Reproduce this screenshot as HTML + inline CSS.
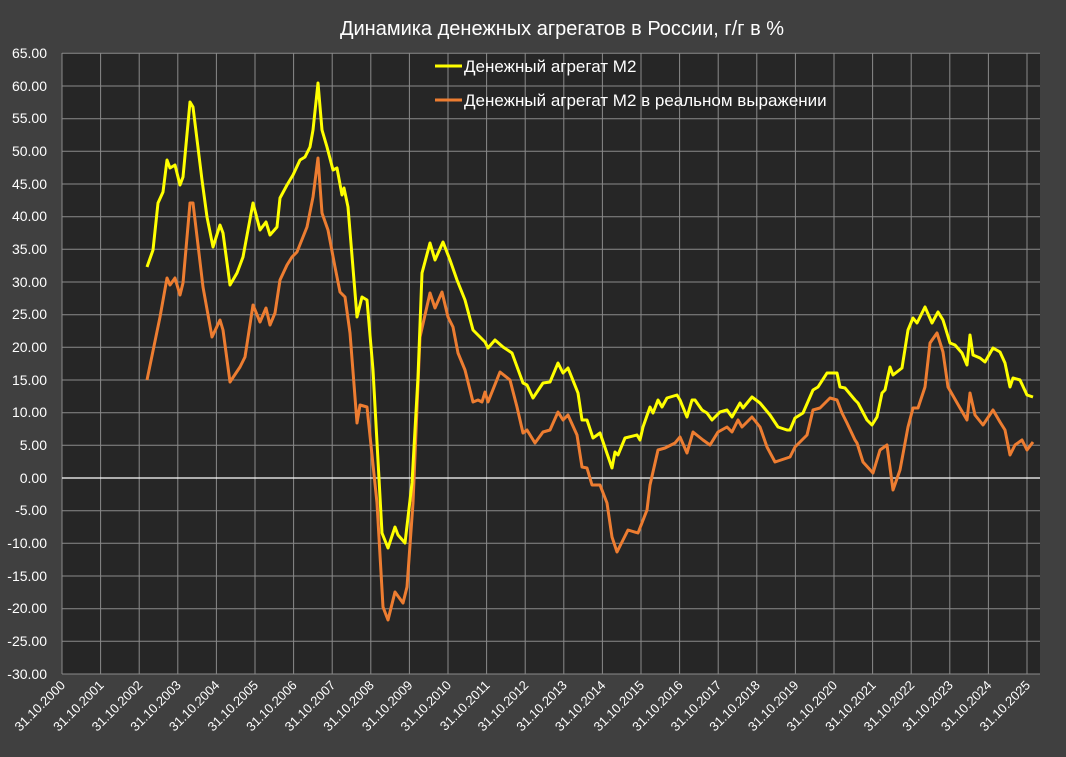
<!DOCTYPE html>
<html><head><meta charset="utf-8"><style>
body{margin:0;background:#404040;}
svg{display:block;font-family:"Liberation Sans","DejaVu Sans",sans-serif;}
</style></head><body>
<svg width="1066" height="757" viewBox="0 0 1066 757" xmlns="http://www.w3.org/2000/svg">
<rect width="1066" height="757" fill="#404040"/>
<rect x="62" y="53.3" width="978" height="620.7" fill="#262626"/>
<g stroke="#8a8a8a" stroke-width="1">
<line x1="62" x2="1040" y1="53.3" y2="53.3"/><line x1="62" x2="1040" y1="86.0" y2="86.0"/><line x1="62" x2="1040" y1="118.7" y2="118.7"/><line x1="62" x2="1040" y1="151.3" y2="151.3"/><line x1="62" x2="1040" y1="184.0" y2="184.0"/><line x1="62" x2="1040" y1="216.7" y2="216.7"/><line x1="62" x2="1040" y1="249.3" y2="249.3"/><line x1="62" x2="1040" y1="282.0" y2="282.0"/><line x1="62" x2="1040" y1="314.7" y2="314.7"/><line x1="62" x2="1040" y1="347.3" y2="347.3"/><line x1="62" x2="1040" y1="380.0" y2="380.0"/><line x1="62" x2="1040" y1="412.7" y2="412.7"/><line x1="62" x2="1040" y1="445.3" y2="445.3"/><line x1="62" x2="1040" y1="510.7" y2="510.7"/><line x1="62" x2="1040" y1="543.3" y2="543.3"/><line x1="62" x2="1040" y1="576.0" y2="576.0"/><line x1="62" x2="1040" y1="608.7" y2="608.7"/><line x1="62" x2="1040" y1="641.3" y2="641.3"/><line x1="62" x2="1040" y1="674" y2="674"/>
<line x1="62" x2="62" y1="53" y2="674"/><line x1="100.6" x2="100.6" y1="53" y2="674"/><line x1="139.2" x2="139.2" y1="53" y2="674"/><line x1="177.8" x2="177.8" y1="53" y2="674"/><line x1="216.4" x2="216.4" y1="53" y2="674"/><line x1="255" x2="255" y1="53" y2="674"/><line x1="293.6" x2="293.6" y1="53" y2="674"/><line x1="332.2" x2="332.2" y1="53" y2="674"/><line x1="370.8" x2="370.8" y1="53" y2="674"/><line x1="409.4" x2="409.4" y1="53" y2="674"/><line x1="448" x2="448" y1="53" y2="674"/><line x1="486.6" x2="486.6" y1="53" y2="674"/><line x1="525.2" x2="525.2" y1="53" y2="674"/><line x1="563.8" x2="563.8" y1="53" y2="674"/><line x1="602.4" x2="602.4" y1="53" y2="674"/><line x1="641" x2="641" y1="53" y2="674"/><line x1="679.6" x2="679.6" y1="53" y2="674"/><line x1="718.2" x2="718.2" y1="53" y2="674"/><line x1="756.8" x2="756.8" y1="53" y2="674"/><line x1="795.4" x2="795.4" y1="53" y2="674"/><line x1="834" x2="834" y1="53" y2="674"/><line x1="872.6" x2="872.6" y1="53" y2="674"/><line x1="911.2" x2="911.2" y1="53" y2="674"/><line x1="949.8" x2="949.8" y1="53" y2="674"/><line x1="988.4" x2="988.4" y1="53" y2="674"/><line x1="1027" x2="1027" y1="53" y2="674"/>
</g>
<line x1="62" x2="1040" y1="478" y2="478" stroke="#ffffff" stroke-width="1.3"/>
<g fill="#ffffff" font-size="14" text-anchor="end">
<text x="47" y="58">65.00</text><text x="47" y="91">60.00</text><text x="47" y="123">55.00</text><text x="47" y="156">50.00</text><text x="47" y="189">45.00</text><text x="47" y="221">40.00</text><text x="47" y="254">35.00</text><text x="47" y="287">30.00</text><text x="47" y="319">25.00</text><text x="47" y="352">20.00</text><text x="47" y="385">15.00</text><text x="47" y="417">10.00</text><text x="47" y="450">5.00</text><text x="47" y="483">0.00</text><text x="47" y="515">-5.00</text><text x="47" y="548">-10.00</text><text x="47" y="581">-15.00</text><text x="47" y="613">-20.00</text><text x="47" y="646">-25.00</text><text x="47" y="679">-30.00</text>
</g>
<g fill="#ffffff" font-size="13" text-anchor="end">
<text transform="translate(66,686) rotate(-45)">31.10.2000</text><text transform="translate(104.6,686) rotate(-45)">31.10.2001</text><text transform="translate(143.2,686) rotate(-45)">31.10.2002</text><text transform="translate(181.8,686) rotate(-45)">31.10.2003</text><text transform="translate(220.4,686) rotate(-45)">31.10.2004</text><text transform="translate(259,686) rotate(-45)">31.10.2005</text><text transform="translate(297.6,686) rotate(-45)">31.10.2006</text><text transform="translate(336.2,686) rotate(-45)">31.10.2007</text><text transform="translate(374.8,686) rotate(-45)">31.10.2008</text><text transform="translate(413.4,686) rotate(-45)">31.10.2009</text><text transform="translate(452,686) rotate(-45)">31.10.2010</text><text transform="translate(490.6,686) rotate(-45)">31.10.2011</text><text transform="translate(529.2,686) rotate(-45)">31.10.2012</text><text transform="translate(567.8,686) rotate(-45)">31.10.2013</text><text transform="translate(606.4,686) rotate(-45)">31.10.2014</text><text transform="translate(645,686) rotate(-45)">31.10.2015</text><text transform="translate(683.6,686) rotate(-45)">31.10.2016</text><text transform="translate(722.2,686) rotate(-45)">31.10.2017</text><text transform="translate(760.8,686) rotate(-45)">31.10.2018</text><text transform="translate(799.4,686) rotate(-45)">31.10.2019</text><text transform="translate(838,686) rotate(-45)">31.10.2020</text><text transform="translate(876.6,686) rotate(-45)">31.10.2021</text><text transform="translate(915.2,686) rotate(-45)">31.10.2022</text><text transform="translate(953.8,686) rotate(-45)">31.10.2023</text><text transform="translate(992.4,686) rotate(-45)">31.10.2024</text><text transform="translate(1031,686) rotate(-45)">31.10.2025</text>
</g>
<text x="562" y="35" fill="#ffffff" font-size="20" text-anchor="middle">Динамика денежных агрегатов  в России, г/г в %</text>
<polyline fill="none" stroke="#ed7d31" stroke-width="3" stroke-linejoin="round" points="147,380 160,317 167,278 170,285 175,278 180,295 183,283 190,203 193,203 203,287 212,337 220,320 223,330 230,382 240,367 245,357 253,305 260,322 266,308 270,325 275,313 280,280 287,265 292,257 297,252 307,227 313,197 318,158 322,213 328,230 335,267 340,292 345,297 350,333 357,423 360,405 367,407 377,503 383,607 388,620 395,592 403,603 407,587 413,503 420,337 430,293 435,308 442,292 448,317 453,327 458,353 465,370 473,402 478,400 482,402 485,392 488,402 500,372 510,380 517,407 523,433 527,430 535,443 543,432 550,430 558,412 563,420 568,415 577,435 582,467 587,468 592,485 600,485 607,503 612,537 617,552 628,530 638,533 647,510 650,485 658,450 665,448 675,443 680,437 687,453 693,432 703,440 710,445 718,432 727,427 732,432 738,420 742,427 752,417 760,427 767,447 775,462 790,457 795,447 807,435 813,410 820,408 830,398 837,400 842,413 847,423 855,440 857,443 863,462 873,473 880,450 887,445 893,490 900,470 908,427 913,408 918,408 925,387 930,343 937,333 943,352 948,387 960,408 967,420 970,393 975,415 983,425 993,410 1000,422 1005,430 1010,455 1015,445 1022,440 1027,450 1033,442"/>
<polyline fill="none" stroke="#ffff00" stroke-width="3" stroke-linejoin="round" points="147,267 153,250 158,203 163,192 167,160 170,168 175,165 180,185 183,177 190,102 193,107 202,180 207,217 213,247 220,225 223,233 230,285 237,273 243,257 253,203 260,230 266,222 270,235 277,227 280,198 287,185 293,175 300,160 305,157 310,147 313,130 318,83 322,130 327,147 333,170 337,168 342,195 344,188 348,207 357,317 362,297 367,300 373,370 382,533 388,548 395,527 398,535 405,543 412,483 418,377 422,273 430,243 435,260 443,242 450,260 457,280 465,300 473,330 480,337 485,342 488,348 495,340 503,347 512,353 523,383 527,385 533,398 543,383 550,382 558,363 563,373 568,368 578,393 582,420 587,420 593,438 600,433 612,468 615,452 618,455 625,438 637,435 640,440 643,427 650,407 653,413 658,400 662,407 667,398 677,395 680,400 687,417 692,400 695,400 702,410 707,413 712,420 720,412 727,410 732,417 740,403 743,408 752,397 760,403 770,415 778,427 787,430 790,430 795,418 803,413 813,390 818,387 827,373 837,373 840,387 845,388 855,400 858,403 867,420 872,425 877,417 882,393 885,390 890,367 893,375 902,368 908,330 913,318 917,323 925,307 932,323 938,312 943,320 950,343 955,345 962,353 967,365 970,335 973,355 980,358 985,362 993,348 1000,352 1005,363 1010,387 1013,378 1020,380 1027,395 1033,397"/>
<line x1="435" x2="462" y1="66" y2="66" stroke="#ffff00" stroke-width="3"/>
<text x="464" y="72" fill="#ffffff" font-size="17">Денежный агрегат М2</text>
<line x1="435" x2="462" y1="100" y2="100" stroke="#ed7d31" stroke-width="3"/>
<text x="464" y="106" fill="#ffffff" font-size="17">Денежный агрегат М2 в реальном выражении</text>
</svg>
</body></html>
